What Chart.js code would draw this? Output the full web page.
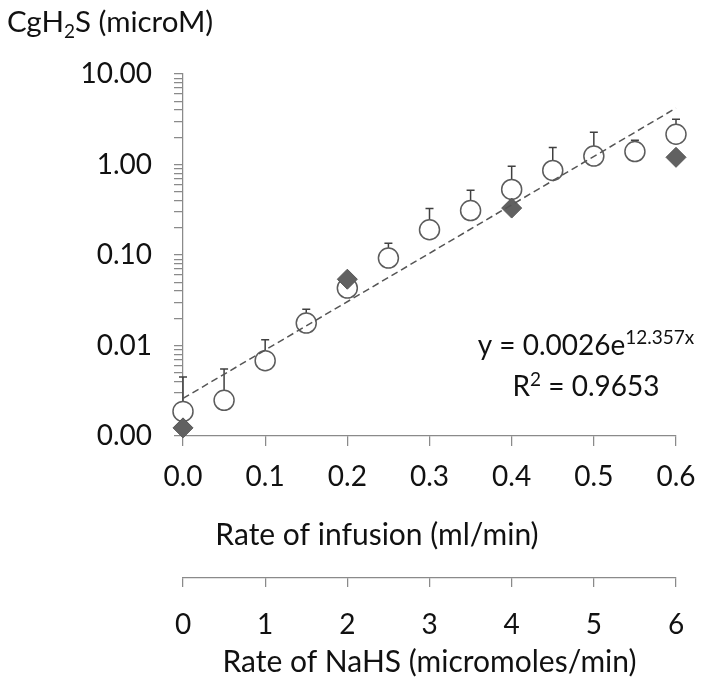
<!DOCTYPE html>
<html>
<head>
<meta charset="utf-8">
<script src="https://cdn.jsdelivr.net/npm/chart.js@4/dist/chart.umd.min.js"></script>
<style>
html, body { margin: 0; padding: 0; background: #fff; }
#wrap { width: 706px; height: 678px; position: relative; }
</style>
</head>
<body>
<div id="wrap"><canvas id="h2sChart"></canvas></div>
<script>
// infusion rate (ml/min) vs measured CgH2S (microM), mean and top of error bar
let rates = [0, 0.05, 0.1, 0.15, 0.2, 0.25, 0.3, 0.35, 0.4, 0.45, 0.5, 0.55, 0.6]
let meanH2S = [0.00187, 0.00248, 0.0068, 0.0177, 0.0431, 0.0925, 0.19, 0.31, 0.53, 0.86, 1.24, 1.39, 2.16]
let errTop = [0.0045, 0.0055, 0.0116, 0.0252, 0.052, 0.135, 0.326, 0.52, 0.957, 1.54, 2.27, 1.85, 3.16]

// NaHS infusion points (filled diamonds)
let nahsRates = [0, 0.2, 0.4, 0.6]
let nahsH2S = [0.00123, 0.054, 0.33, 1.2]

// exponential trendline, read at its two ends
let fitX = [0, 0.6]
let fitY = [0.0026, 4.2]

let xTicks = [0, 0.1, 0.2, 0.3, 0.4, 0.5, 0.6]
let xTickLabels = ['0.0', '0.1', '0.2', '0.3', '0.4', '0.5', '0.6']
let x2Ticks = [0, 1, 2, 3, 4, 5, 6]
let x2TickLabels = ['0', '1', '2', '3', '4', '5', '6']
let yDecades = [0.001, 0.01, 0.1, 1, 10]
let yTickLabels = ['0.00', '0.01', '0.10', '1.00', '10.00']

const FONT = 'Lato'
const TEXT = '#111111'
const AXIS = '#8a8a8a'

Chart.defaults.font.family = FONT

// draw a row of text pieces with their own size and baseline shift
function drawRuns(ctx, x, y, runs, align) {
    let widths = runs.map(r => {
        ctx.font = r[1] + 'px ' + FONT
        return ctx.measureText(r[0]).width
    })
    let total = widths.reduce((a, b) => a + b, 0)
    let cx = align === 'center' ? x - total / 2 : align === 'right' ? x - total : x
    runs.forEach((r, i) => {
        ctx.font = r[1] + 'px ' + FONT
        ctx.fillText(r[0], cx, y + r[2])
        cx += widths[i]
    })
}

// keep the end labels from pushing the plot area in
function noEdgePadding(s) {
    s.paddingLeft = 0
    s.paddingRight = 0
}

const errorBars = {
    id: 'errorBars',
    beforeDatasetsDraw(chart) {
        let ctx = chart.ctx
        let xs = chart.scales.x
        let ys = chart.scales.y
        ctx.save()
        ctx.strokeStyle = '#404040'
        ctx.lineWidth = 1.5
        rates.forEach((r, i) => {
            let px = xs.getPixelForValue(r)
            let p0 = ys.getPixelForValue(meanH2S[i])
            let p1 = ys.getPixelForValue(errTop[i])
            ctx.beginPath()
            ctx.moveTo(px, p0)
            ctx.lineTo(px, p1)
            ctx.moveTo(px - 4, p1)
            ctx.lineTo(px + 4, p1)
            ctx.stroke()
        })
        ctx.restore()
    }
}

const labels = {
    id: 'labels',
    afterDraw(chart) {
        let ctx = chart.ctx
        ctx.save()
        ctx.fillStyle = TEXT
        ctx.textBaseline = 'alphabetic'
        ctx.textAlign = 'left'
        drawRuns(ctx, 7, 32, [['CgH', 29.5, 0], ['2', 19, 6], ['S (microM)', 29.5, 0]], 'left')
        drawRuns(ctx, 377, 545, [['Rate of infusion (ml/min)', 30, 0]], 'center')
        drawRuns(ctx, 586, 355, [['y = 0.0026e', 28, 0], ['12.357x', 19, -11]], 'center')
        drawRuns(ctx, 586, 396, [['R', 28, 0], ['2', 19, -10], [' = 0.9653', 28, 0]], 'center')
        ctx.restore()
    }
}

let ctx = document.getElementById('h2sChart').getContext('2d')
let chart = new Chart(ctx, {
    type: 'scatter',
    data: {
        datasets: [{
            label: 'Trendline',
            data: fitX.map((v, i) => ({ x: v, y: fitY[i] })),
            showLine: true,
            borderColor: '#555555',
            borderWidth: 1.5,
            borderDash: [7, 4],
            pointRadius: 0,
            order: 0,
            clip: false
        }, {
            label: 'NaHS',
            data: nahsRates.map((v, i) => ({ x: v, y: nahsH2S[i] })),
            pointStyle: 'rectRot',
            pointRadius: 10,
            pointHoverRadius: 10,
            backgroundColor: '#616161',
            borderColor: '#555555',
            borderWidth: 1,
            order: 1,
            clip: false
        }, {
            label: 'CgH2S',
            data: rates.map((v, i) => ({ x: v, y: meanH2S[i] })),
            pointStyle: 'circle',
            pointRadius: 10,
            pointHoverRadius: 10,
            backgroundColor: '#ffffff',
            borderColor: '#5c5c5c',
            borderWidth: 1.5,
            order: 2,
            clip: false
        }]
    },
    options: {
        responsive: true,
        maintainAspectRatio: false,
        animation: false,
        layout: { padding: { top: 74, right: 30, bottom: 0, left: 0 } },
        plugins: {
            legend: { display: false },
            tooltip: { enabled: false }
        },
        scales: {
            x: {
                type: 'linear',
                position: 'bottom',
                weight: 0,
                min: 0,
                max: 0.6,
                afterBuildTicks: s => { s.ticks = xTicks.map(v => ({ value: v })) },
                afterFit: s => { s.height = 142; noEdgePadding(s) },
                grid: { drawOnChartArea: false, tickLength: 10, color: AXIS, lineWidth: 1.25 },
                border: { color: AXIS, width: 1.25 },
                ticks: {
                    callback: (v, i) => xTickLabels[i],
                    font: { size: 28 }, color: TEXT, padding: 14,
                    maxRotation: 0, autoSkip: false
                }
            },
            x2: {
                type: 'linear',
                position: 'bottom',
                weight: 1,
                min: 0,
                max: 6,
                afterBuildTicks: s => { s.ticks = x2Ticks.map(v => ({ value: v })) },
                afterFit: s => { s.height = 100; noEdgePadding(s) },
                grid: { drawOnChartArea: false, tickLength: 9, color: AXIS, lineWidth: 1.25 },
                border: { color: AXIS, width: 1.25 },
                ticks: {
                    callback: (v, i) => x2TickLabels[i],
                    font: { size: 28 }, color: TEXT, padding: 21,
                    maxRotation: 0, autoSkip: false
                },
                title: {
                    display: true, text: 'Rate of NaHS (micromoles/min)',
                    font: { size: 30, lineHeight: 1 }, color: TEXT, padding: { top: 0, bottom: 1 }
                }
            },
            y: {
                type: 'logarithmic',
                position: 'left',
                min: 0.001,
                max: 10,
                afterBuildTicks: s => {
                    let t = []
                    yDecades.forEach((d, i) => {
                        if (i === yDecades.length - 1) { t.push({ value: d }); return }
                        for (let k = 1; k < 10; k++) t.push({ value: d * k })
                    })
                    s.ticks = t
                },
                afterFit: s => { s.width = 183 },
                grid: { drawOnChartArea: false, tickLength: 9, color: AXIS, lineWidth: 1.25 },
                border: { color: AXIS, width: 1.25 },
                ticks: {
                    callback: (v) => {
                        let i = yDecades.findIndex(d => Math.abs(d - v) < d * 1e-6)
                        return i >= 0 ? yTickLabels[i] : ''
                    },
                    font: { size: 28 }, color: TEXT, padding: 22, autoSkip: false
                }
            }
        }
    },
    plugins: [errorBars, labels]
})
</script>
</body>
</html>
